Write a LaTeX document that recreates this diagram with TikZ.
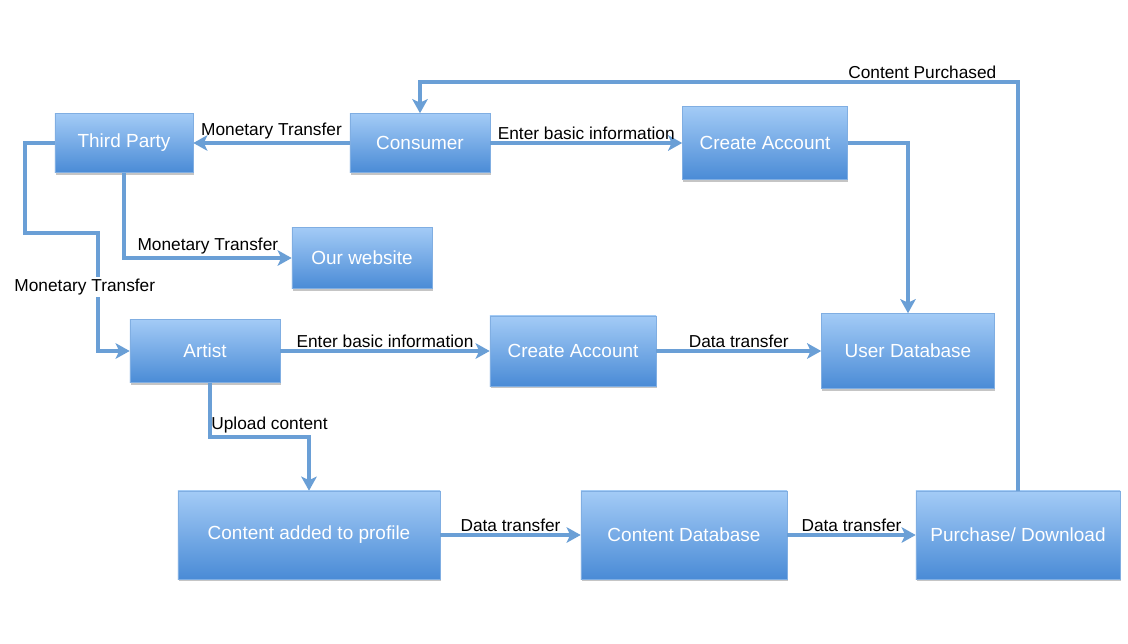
\documentclass[tikz,border=0pt]{standalone}
\usepackage{fontspec}
\setmainfont{Liberation Sans}
\usepackage{tikz}
\usetikzlibrary{arrows.meta, shadows}

\definecolor{boxtop}{HTML}{A3CBF6}
\definecolor{boxbottom}{HTML}{4A8BD6}
\definecolor{flowblue}{HTML}{6A9FD6}

\begin{document}
\begin{tikzpicture}[x=0.025cm, y=-0.025cm,
    box/.style={top color=boxtop, bottom color=boxbottom, draw=boxbottom!70, thin,
        text=white, font=\fontsize{13.5}{15}\selectfont, inner sep=1pt,
        drop shadow={shadow xshift=0.6pt, shadow yshift=-1.6pt, opacity=0.45}},
    flow/.style={draw=flowblue, line width=2.4pt, -{Stealth[length=10pt, width=11pt, inset=2.5pt]}},
    lbl/.style={text=black, font=\fontsize{12.3}{14}\selectfont, inner sep=1.5pt}]
        \useasboundingbox (0,0) rectangle (1128,643);
        \fill[white] (0,0) rectangle (1128,643);

        % boxes
        \node[box, minimum width=3.45cm, minimum height=1.475cm] (tp) at (124,143) {Third Party};
        \node[box, minimum width=3.5cm, minimum height=1.475cm] (cn) at (420,143) {Consumer};
        \node[box, minimum width=4.125cm, minimum height=1.825cm] (ca1) at (765,143) {Create Account};
        \node[box, minimum width=3.5cm, minimum height=1.525cm] (web) at (362,258) {Our website};
        \node[box, minimum width=3.75cm, minimum height=1.575cm] (ar) at (205,351) {Artist};
        \node[box, minimum width=4.15cm, minimum height=1.75cm] (ca2) at (573,351) {Create Account};
        \node[box, minimum width=4.325cm, minimum height=1.875cm] (ud) at (908,351) {User Database};
        \node[box, minimum width=6.55cm, minimum height=2.2cm] (cap) at (309,535) {Content added to profile};
        \node[box, minimum width=5.15cm, minimum height=2.2cm] (cd) at (684,535) {Content Database};
        \node[box, minimum width=5.1cm, minimum height=2.2cm] (pd) at (1018,535) {Purchase/ Download};

        % bends
        \coordinate (tpbend) at (25,233);
        \coordinate (arbend) at (98,233);
        \coordinate (upbend) at (210,437);
        \coordinate (topbend) at (1018,82);

        % connectors
        \draw[flow] (cn) -- node[lbl, above] {Monetary Transfer} (tp);
        \draw[flow] (cn) -- node[lbl, above] {Enter basic information} (ca1);
        \draw[flow] (ca1.east) -| (ud.north);
        \draw[flow] (tp.south) |- node[lbl, pos=0.75, above] {Monetary Transfer} (web.west);
        \draw[flow] (tp.west) -| (tpbend) -- (arbend) |- node[lbl, pos=0.23, fill=white, xshift=-0.33cm] {Monetary Transfer} (ar.west);
        \draw[flow] (ar) -- node[lbl, above] {Enter basic information} (ca2);
        \draw[flow] (ca2) -- node[lbl, above] {Data transfer} (ud);
        \draw[flow] (ar.south -| upbend) -- (upbend) -| node[lbl, pos=0.25, above, xshift=0.25cm] {Upload content} (cap.north);
        \draw[flow] (cap) -- node[lbl, above] {Data transfer} (cd);
        \draw[flow] (cd) -- node[lbl, above] {Data transfer} (pd);
        \draw[flow] (pd.north) -- (topbend) -| node[lbl, pos=0.08, above] {Content Purchased} (cn.north);
\end{tikzpicture}
\end{document}
